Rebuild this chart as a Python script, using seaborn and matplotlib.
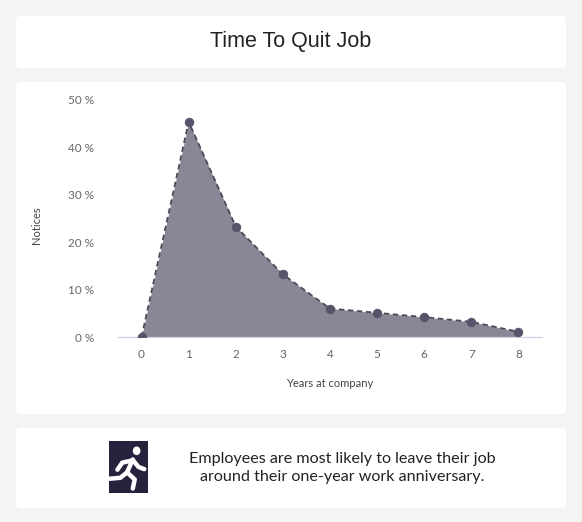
import matplotlib
matplotlib.use("Agg")
import matplotlib.pyplot as plt
import seaborn as sns
import pandas as pd
from matplotlib.patches import FancyBboxPatch, Rectangle, Circle

years = [0, 1, 2, 3, 4, 5, 6, 7, 8]
notices = [0.0, 45.4, 23.3, 13.2, 6.0, 5.1, 4.2, 3.2, 1.1]
ytick_values = [0, 10, 20, 30, 40, 50]
ytick_labels = ["0 %", "10 %", "20 %", "30 %", "40 %", "50 %"]
title_text = "Time To Quit Job"
note_text = "Employees are most likely to leave their job\naround their one-year work anniversary."

W, H = 582, 522
sns.set_theme(style="white")
plt.rcParams["font.family"] = ["Lato", "DejaVu Sans"]

fig = plt.figure(figsize=(W / 100, H / 100), dpi=100)
fig.patch.set_facecolor("#f4f4f4")


def card(x0, y0, x1, y1):
    # pixel coords from top-left
    fig.patches.append(FancyBboxPatch(
        (x0 / W, 1 - y1 / H), (x1 - x0) / W, (y1 - y0) / H,
        boxstyle="round,pad=0,rounding_size=0.008",
        transform=fig.transFigure, facecolor="white", edgecolor="none", zorder=-5))


card(16, 16, 566, 68)
card(16, 82, 566, 414)
card(16, 428, 566, 508)

fig.text(291 / W, 1 - 42 / H, title_text, ha="center", va="center",
         fontsize=15.5, color="#222222", family=["Liberation Sans", "DejaVu Sans"])

df = pd.DataFrame({"year": years, "notices": notices})

ax = fig.add_axes([118 / W, 1 - 337 / H, 424 / W, 237 / H])
ax.set_facecolor("none")
ax.fill_between(df["year"], df["notices"], color="#8a8696", linewidth=0, zorder=1)
sns.lineplot(data=df, x="year", y="notices", ax=ax, color="#4c4859",
             linestyle=(0, (3, 2)), linewidth=1.3, marker="o", markersize=6,
             markerfacecolor="#57536a", markeredgecolor="#57536a", zorder=3)

ax.set_xlim(-0.5, 8.5)
ax.set_ylim(0, 50)
ax.set_xticks(years)
ax.set_xticks([y - 0.5 for y in years] + [8.5], minor=True)
ax.set_yticks(ytick_values)
ax.set_yticklabels(ytick_labels)
ax.tick_params(axis="x", which="major", length=0, pad=9, labelsize=8.5, labelcolor="#666666")
ax.tick_params(axis="x", which="minor", length=6, width=0.8, color="#d4d1e2", direction="out")
ax.tick_params(axis="y", length=0, pad=17, labelsize=8.5, labelcolor="#666666")
for s in ["top", "right", "left"]:
    ax.spines[s].set_visible(False)
ax.spines["bottom"].set_color("#d4d1e2")
ax.spines["bottom"].set_linewidth(0.9)
ax.set_xlabel("Years at company", fontsize=8, color="#444444")
ax.set_ylabel("Notices", fontsize=8, color="#444444")
ax.yaxis.set_label_coords(-0.18, 0.47)
ax.xaxis.set_label_coords(0.5, -0.175)

# exit icon
iax = fig.add_axes([104 / W, 1 - 494 / H, 48 / W, 54 / H])
iax.set_xlim(0, 1)
iax.set_ylim(0, 1)
iax.axis("off")
iax.add_patch(Rectangle((0.1, 0.02), 0.82, 0.96, facecolor="#28223f", edgecolor="none"))
iax.add_patch(Circle((0.68, 0.8), 0.08, facecolor="white", edgecolor="none"))
lw = 3.2
kw = dict(color="white", linewidth=lw, solid_capstyle="round", solid_joinstyle="round")
iax.plot([0.6, 0.48], [0.64, 0.4], **kw)
iax.plot([0.58, 0.38, 0.28], [0.62, 0.58, 0.45], **kw)
iax.plot([0.6, 0.72, 0.84], [0.63, 0.5, 0.46], **kw)
iax.plot([0.48, 0.64, 0.6], [0.4, 0.27, 0.1], **kw)
iax.plot([0.48, 0.34, 0.08], [0.4, 0.3, 0.28], **kw)

fig.text(342 / W, 1 - 468 / H, note_text, ha="center", va="center",
         fontsize=11.6, color="#222222", linespacing=1.3)

fig.savefig("out.png", dpi=100, facecolor=fig.get_facecolor())
